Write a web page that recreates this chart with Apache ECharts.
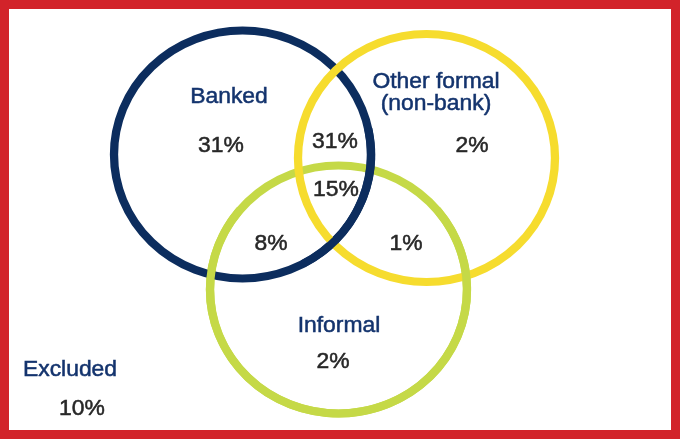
<!DOCTYPE html>
<html>
<head>
<meta charset="utf-8">
<script src="https://cdn.jsdelivr.net/npm/echarts@6/dist/echarts.min.js"></script>
<style>
  html, body { margin: 0; padding: 0; background: #ffffff; }
  #chart { width: 680px; height: 439px; }
</style>
</head>
<body>
<div id="chart"></div>
<script>
// Sets of the diagram
const setNames = ['Banked', 'Other formal (non-bank)', 'Informal'];

// Shares of the population by region (percent)
const regionNames = [
  'Banked only',
  'Banked & other formal',
  'All three',
  'Banked & informal',
  'Other formal & informal',
  'Other formal only',
  'Informal only',
  'Excluded'
];
const regionShares = [31, 31, 15, 8, 1, 2, 2, 10];

// Titles drawn inside the diagram
const titleTexts = ['Banked', 'Other formal', '(non-bank)', 'Informal', 'Excluded'];

// ---- layout (plot space is 680 x 439 units, y downwards) ----
const setLayout = {
  centers: [[242.5, 154.5], [426.5, 158], [338.5, 289.5]],
  radius: [128.5, 124],
  colors: ['#0c2d5e', '#f6dc2e', '#c5d947'],
  // arcs redrawn over the others so the rings interlace
  overArcs: [
    { set: 0, from: -12, to: 62 },
    { set: 2, from: -40, to: 220 }
  ]
};
const regionLabelPos = [
  [221, 146], [335, 142], [336, 190], [271, 244],
  [406, 244], [472, 146], [333, 362], [82, 409]
];
const titlePos = [[229, 97], [436, 82], [436, 104], [339, 326], [70, 370]];

const FONT = '"Liberation Sans", Arial, Helvetica, sans-serif';
const STRETCH = 1.04;

const chart = echarts.init(document.getElementById('chart'), null, { renderer: 'canvas' });

function ringItem(params, api) {
  const c = api.coord([api.value(0), api.value(1)]);
  const s = api.size([api.value(2), api.value(3)]);
  const sx = s[0] / s[1];
  const color = setLayout.colors[api.value(4)];
  const isArc = api.value(5) === 1;
  if (isArc) {
    return {
      type: 'arc',
      x: c[0], y: c[1], scaleX: sx,
      shape: {
        cx: 0, cy: 0, r: s[1],
        startAngle: api.value(6) * Math.PI / 180,
        endAngle: api.value(7) * Math.PI / 180,
        clockwise: true
      },
      style: { stroke: color, lineWidth: 8, fill: null }
    };
  }
  return {
    type: 'circle',
    x: c[0], y: c[1], scaleX: sx,
    shape: { cx: 0, cy: 0, r: s[1] },
    style: { stroke: color, fill: null, lineWidth: 8 }
  };
}

// ring drawing order: informal, banked, other formal, then the overlay arcs
const ringData = [];
[2, 0, 1].forEach(function (k) {
  ringData.push([setLayout.centers[k][0], setLayout.centers[k][1],
    setLayout.radius[0], setLayout.radius[1], k, 0, 0, 0]);
});
setLayout.overArcs.forEach(function (a) {
  const k = a.set;
  ringData.push([setLayout.centers[k][0], setLayout.centers[k][1],
    setLayout.radius[0], setLayout.radius[1], k, 1, a.from, a.to]);
});

function textItem(color) {
  return function (params, api) {
    const c = api.coord([api.value(0), api.value(1)]);
    return {
      type: 'text',
      x: c[0], y: c[1], scaleX: STRETCH,
      style: {
        text: api.value(2),
        fill: color,
        stroke: color,
        lineWidth: 0.5,
        font: '22px ' + FONT,
        align: 'center',
        verticalAlign: 'middle'
      }
    };
  };
}

const valueData = regionShares.map(function (v, i) {
  return [regionLabelPos[i][0], regionLabelPos[i][1], v + '%', regionNames[i]];
});
const titleData = titleTexts.map(function (t, i) {
  return [titlePos[i][0], titlePos[i][1], t];
});

chart.setOption({
  animation: false,
  backgroundColor: '#ffffff',
  grid: { left: 0, right: 0, top: 0, bottom: 0 },
  xAxis: { type: 'value', min: 0, max: 680, show: false },
  yAxis: { type: 'value', min: 0, max: 439, inverse: true, show: false },
  graphic: [{
    type: 'rect',
    shape: { x: 4.5, y: 4.5, width: 671, height: 430 },
    style: { stroke: '#d2232a', lineWidth: 9, fill: null },
    z: 10
  }],
  series: [
    {
      type: 'custom',
      name: 'sets',
      coordinateSystem: 'cartesian2d',
      renderItem: ringItem,
      data: ringData,
      silent: true,
      z: 2
    },
    {
      type: 'custom',
      name: 'titles',
      coordinateSystem: 'cartesian2d',
      renderItem: textItem('#13336d'),
      data: titleData,
      silent: true,
      z: 3
    },
    {
      type: 'custom',
      name: 'shares',
      coordinateSystem: 'cartesian2d',
      renderItem: textItem('#272727'),
      data: valueData,
      silent: true,
      z: 3
    }
  ]
});
</script>
</body>
</html>
